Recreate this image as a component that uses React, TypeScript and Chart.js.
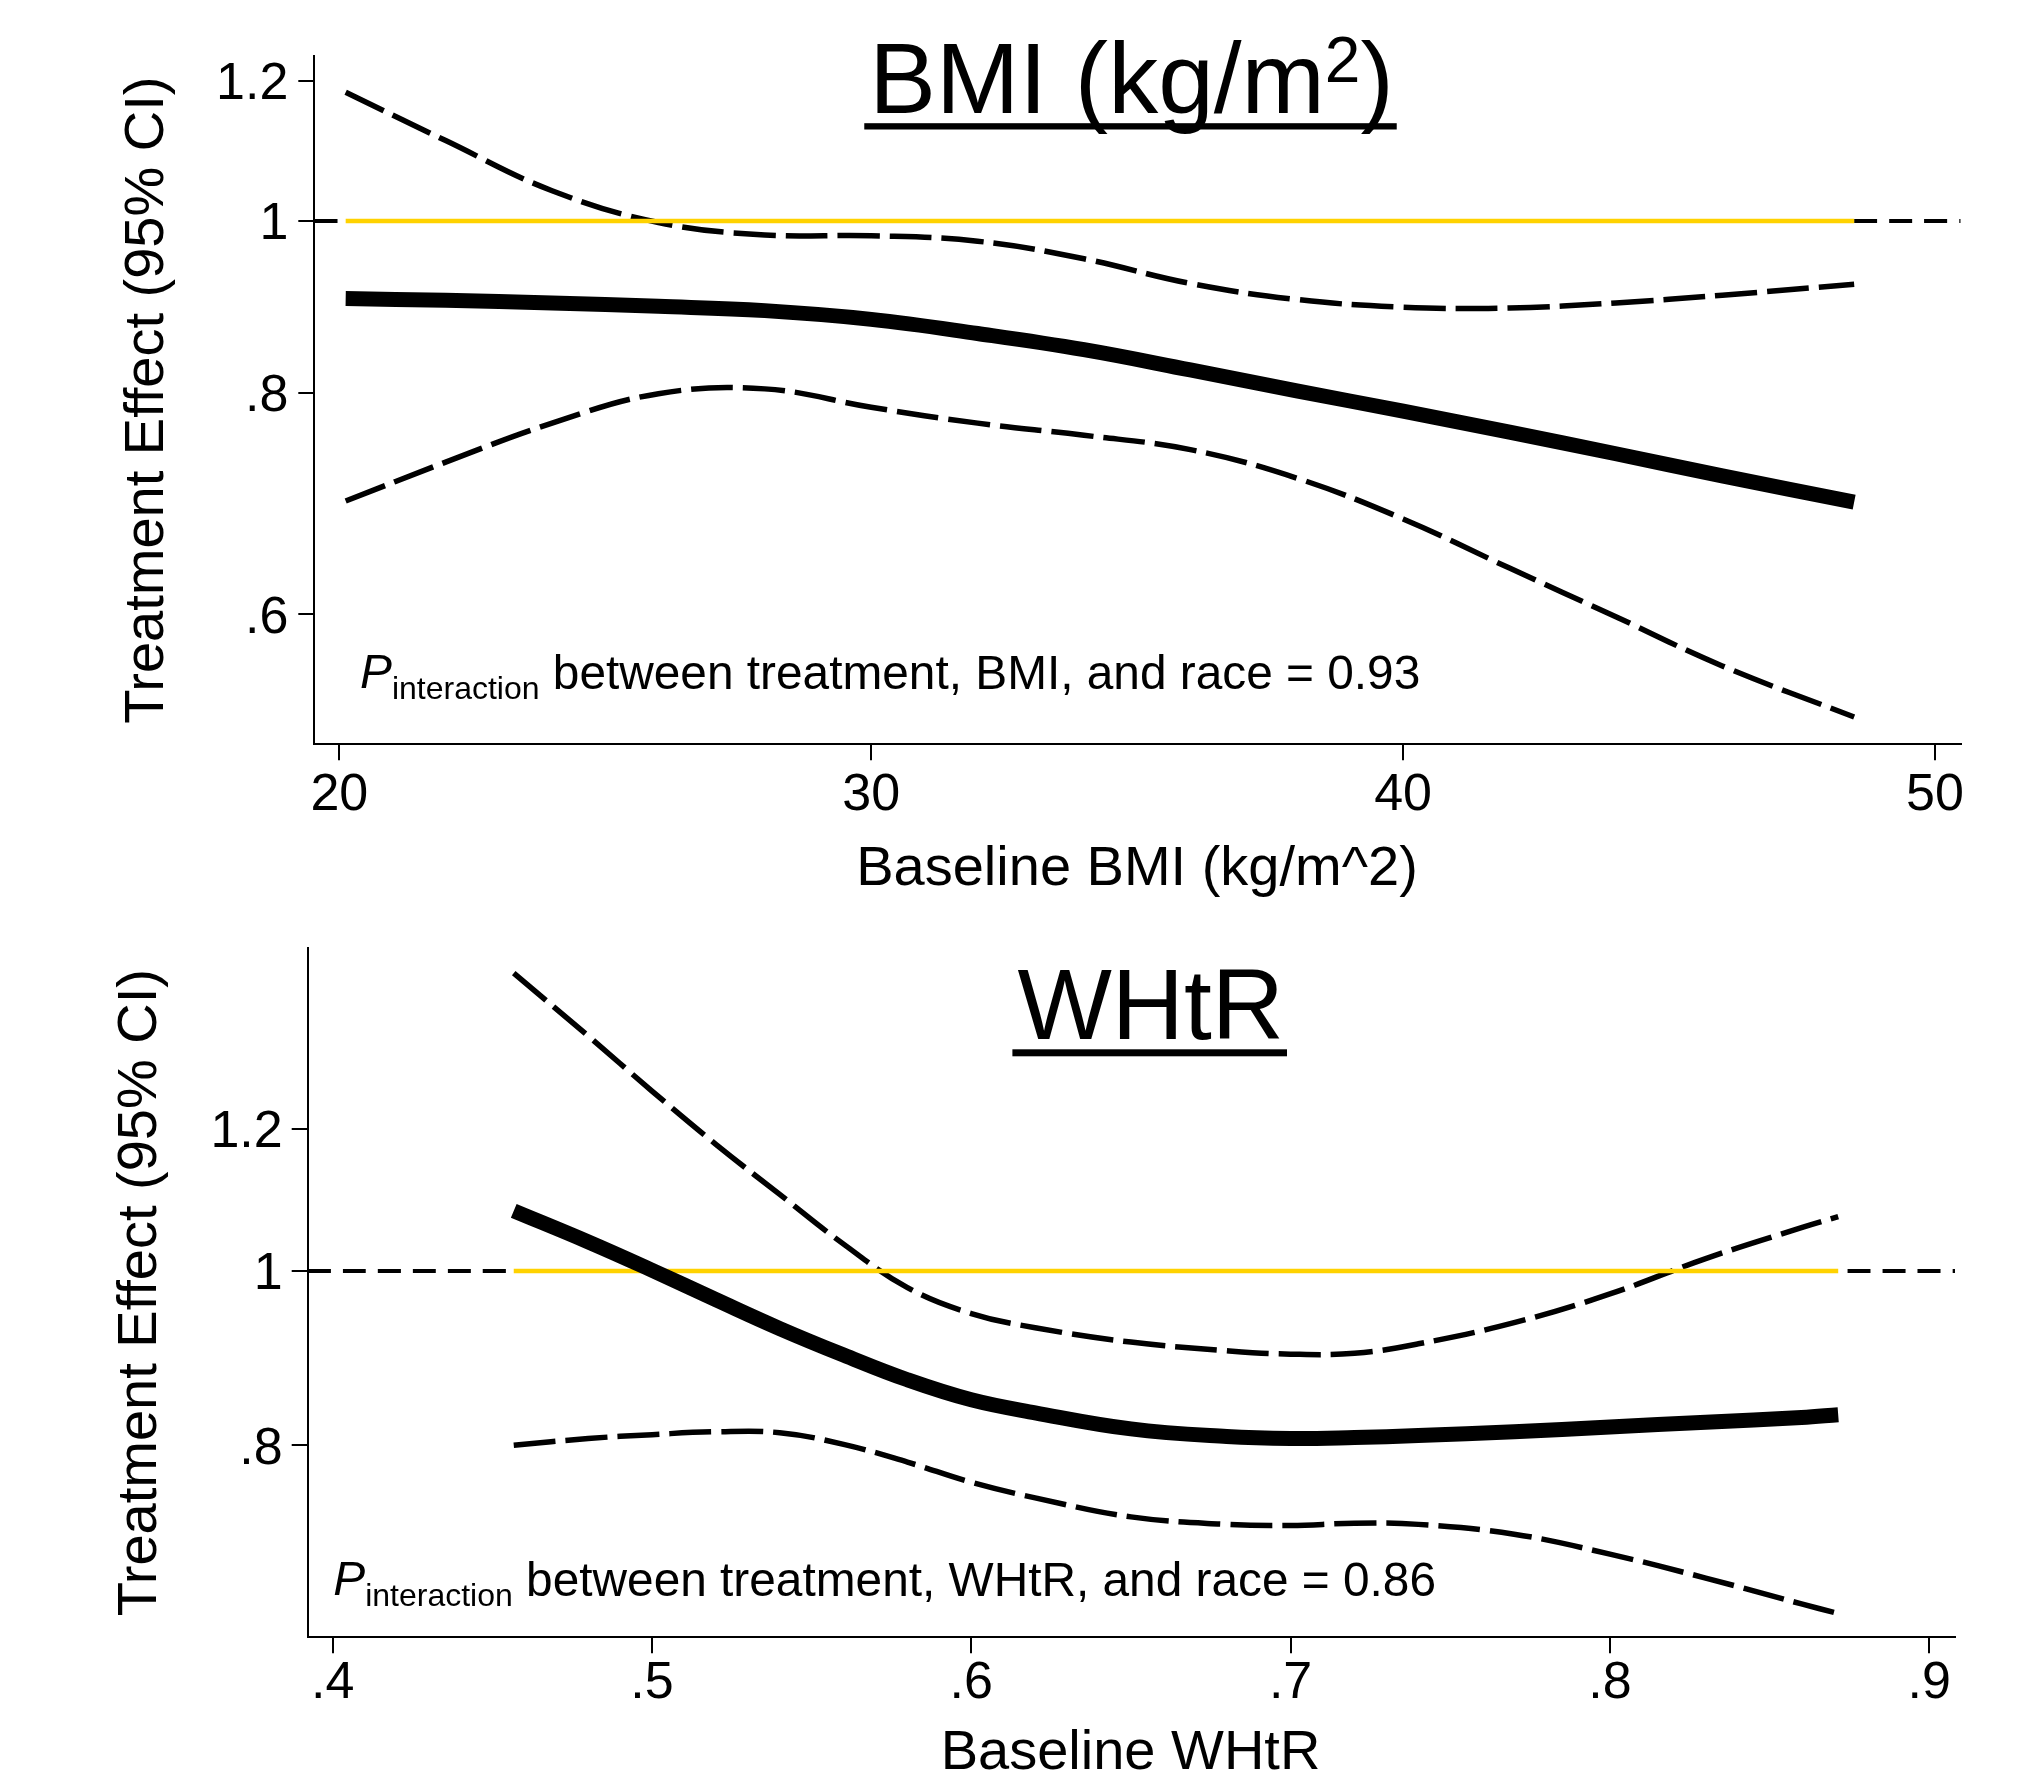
import React, { useEffect, useRef } from 'react';
import { Chart, registerables } from 'chart.js';

Chart.register(...registerables);

const FONT = '"Liberation Sans", Arial, Helvetica, sans-serif';

// ---------- Top panel: BMI ----------
const bmiX = [20.12, 22, 24, 26, 28, 30, 32, 34, 36, 38, 40, 42, 44, 46, 48.48];
const bmiEffect = [0.904, 0.902, 0.899, 0.895, 0.890, 0.880, 0.864, 0.846, 0.824, 0.802, 0.781, 0.760, 0.739, 0.718, 0.694];
const bmiUpper = [1.182, 1.110, 1.040, 0.998, 0.982, 0.981, 0.974, 0.952, 0.922, 0.903, 0.894, 0.893, 0.899, 0.908, 0.921];
const bmiLower = [0.695, 0.731, 0.769, 0.799, 0.804, 0.785, 0.769, 0.757, 0.743, 0.716, 0.679, 0.637, 0.598, 0.561, 0.525];
const bmiXTicks = [20, 30, 40, 50];
const bmiXTickLabels = ['20', '30', '40', '50'];
const bmiYTicks = [0.6, 0.8, 1, 1.2];
const bmiYTickLabels = ['.6', '.8', '1', '1.2'];
const bmiXRange = [19.53, 50.483];
const bmiYRange = [0.5067, 1.2389];

// ---------- Bottom panel: WHtR ----------
const whtrX = [0.4567, 0.48, 0.50, 0.52, 0.54, 0.56, 0.58, 0.60, 0.62, 0.65, 0.68, 0.70, 0.72, 0.74, 0.77, 0.80, 0.83, 0.86, 0.8715];
const whtrEffect = [1.080, 1.038, 1.001, 0.964, 0.929, 0.898, 0.870, 0.848, 0.834, 0.817, 0.809, 0.807, 0.808, 0.810, 0.814, 0.819, 0.824, 0.829, 0.832];
const whtrUpper = [1.464, 1.351, 1.259, 1.176, 1.103, 1.035, 0.979, 0.947, 0.930, 0.913, 0.903, 0.899, 0.900, 0.911, 0.936, 0.971, 1.016, 1.057, 1.072];
const whtrLower = [0.800, 0.807, 0.811, 0.814, 0.813, 0.801, 0.783, 0.763, 0.748, 0.730, 0.723, 0.722, 0.724, 0.723, 0.714, 0.696, 0.675, 0.653, 0.645];
const whtrXTicks = [0.4, 0.5, 0.6, 0.7, 0.8, 0.9];
const whtrXTickLabels = ['.4', '.5', '.6', '.7', '.8', '.9'];
const whtrYTicks = [0.8, 1, 1.2];
const whtrYTickLabels = ['.8', '1', '1.2'];
const whtrXRange = [0.39217, 0.90808];
const whtrYRange = [0.6257, 1.512];

const refValue = 1;

type TitlePart = { text: string; size: number; rise: number };

type PanelCfg = {
  top: number;
  height: number;
  padTop: number;
  padRight: number;
  yAxisWidth: number;
  xAxisHeight: number;
  xTickPad: number;
  yTickPad: number;
  x: number[];
  effect: number[];
  upper: number[];
  lower: number[];
  xTicks: number[];
  xTickLabels: string[];
  yTicks: number[];
  yTickLabels: string[];
  xRange: number[];
  yRange: number[];
  titleParts: TitlePart[];
  titleCx: number;
  titleBase: number;
  ulTop: number;
  ulH: number;
  yTitle: string;
  yTitleX: number;
  xTitle: string;
  xTitleCx: number;
  xTitleBase: number;
  pX: number;
  pBase: number;
  subBase: number;
  mainBase: number;
  annot: string;
};

function makeDecor(cfg: PanelCfg) {
  return {
    id: 'decor',
    afterDraw(chart: any) {
      const ctx: CanvasRenderingContext2D = chart.ctx;
      const ca = chart.chartArea;
      ctx.save();
      ctx.fillStyle = '#000';
      ctx.textBaseline = 'alphabetic';
      ctx.textAlign = 'left';

      // Title with underline
      const widths = cfg.titleParts.map((p) => {
        ctx.font = `${p.size}px ${FONT}`;
        return ctx.measureText(p.text).width;
      });
      const total = widths.reduce((a, b) => a + b, 0);
      let tx = cfg.titleCx - total / 2;
      const startX = tx;
      cfg.titleParts.forEach((p, i) => {
        ctx.font = `${p.size}px ${FONT}`;
        ctx.fillText(p.text, tx, cfg.titleBase - p.rise);
        tx += widths[i];
      });
      ctx.fillRect(startX - 5, cfg.ulTop, total + 8, cfg.ulH);

      // Y axis title (rotated)
      ctx.save();
      ctx.font = `56px ${FONT}`;
      ctx.textAlign = 'center';
      ctx.translate(cfg.yTitleX, (ca.top + ca.bottom) / 2);
      ctx.rotate(-Math.PI / 2);
      ctx.fillText(cfg.yTitle, 0, 0);
      ctx.restore();

      // X axis title
      ctx.font = `56px ${FONT}`;
      ctx.textAlign = 'center';
      ctx.fillText(cfg.xTitle, cfg.xTitleCx, cfg.xTitleBase);

      // Annotation: P_interaction ...
      ctx.textAlign = 'left';
      let ax = cfg.pX;
      ctx.font = `italic 47.8px ${FONT}`;
      ctx.fillText('P', ax, cfg.pBase);
      ax += ctx.measureText('P').width;
      ctx.font = `32px ${FONT}`;
      ctx.fillText('interaction', ax, cfg.subBase);
      ax += ctx.measureText('interaction').width;
      ctx.font = `47.8px ${FONT}`;
      ax += ctx.measureText(' ').width;
      ctx.fillText(cfg.annot, ax, cfg.mainBase);

      ctx.restore();
    },
  };
}

function Panel({ cfg }: { cfg: PanelCfg }) {
  const ref = useRef<HTMLCanvasElement>(null);

  useEffect(() => {
    const canvas = ref.current;
    if (!canvas) return;
    const pts = (ys: number[]) => cfg.x.map((xv, i) => ({ x: xv, y: ys[i] }));
    const refFull = [
      { x: cfg.xRange[0], y: refValue },
      { x: cfg.xRange[1], y: refValue },
    ];
    const refData = [
      { x: cfg.x[0], y: refValue },
      { x: cfg.x[cfg.x.length - 1], y: refValue },
    ];
    const base = {
      pointRadius: 0,
      pointHoverRadius: 0,
      fill: false,
      tension: 0.4,
      borderCapStyle: 'butt' as const,
      borderJoinStyle: 'round' as const,
    };
    const chart = new Chart(canvas, {
      type: 'line',
      data: {
        datasets: [
          { ...base, label: 'Treatment effect', data: pts(cfg.effect), borderColor: '#000', borderWidth: 15, order: 0 },
          { ...base, label: 'Null (data range)', data: refData, borderColor: '#FFD200', borderWidth: 4.5, order: 1 },
          { ...base, label: 'Null', data: refFull, borderColor: '#000', borderWidth: 4, borderDash: [23, 12], order: 2 },
          { ...base, label: 'Upper 95% CI', data: pts(cfg.upper), borderColor: '#000', borderWidth: 5.5, borderDash: [42, 10], order: 3 },
          { ...base, label: 'Lower 95% CI', data: pts(cfg.lower), borderColor: '#000', borderWidth: 5.5, borderDash: [42, 10], order: 3 },
        ],
      },
      options: {
        responsive: false,
        animation: false,
        devicePixelRatio: 1,
        events: [],
        layout: { padding: { left: 0, top: cfg.padTop, right: cfg.padRight, bottom: 0 } },
        plugins: {
          legend: { display: false },
          tooltip: { enabled: false },
          title: { display: false },
        },
        scales: {
          x: {
            type: 'linear',
            position: 'bottom',
            bounds: 'data',
            min: cfg.xRange[0],
            max: cfg.xRange[1],
            afterBuildTicks: (s: any) => {
              s.ticks = cfg.xTicks.map((v) => ({ value: v }));
            },
            afterFit: (s: any) => {
              s.height = cfg.xAxisHeight;
            },
            ticks: {
              autoSkip: false,
              maxRotation: 0,
              minRotation: 0,
              padding: cfg.xTickPad,
              color: '#000',
              font: { family: FONT, size: 52, lineHeight: 1 },
              callback: (v: any) => {
                const i = cfg.xTicks.indexOf(Number(v));
                return i >= 0 ? cfg.xTickLabels[i] : '';
              },
            },
            grid: {
              drawOnChartArea: false,
              drawTicks: true,
              tickLength: 16,
              tickWidth: 2,
              tickColor: '#000',
              color: '#000',
              lineWidth: 2,
            },
            border: { display: true, color: '#000', width: 2 },
          },
          y: {
            type: 'logarithmic',
            position: 'left',
            bounds: 'data',
            min: cfg.yRange[0],
            max: cfg.yRange[1],
            afterBuildTicks: (s: any) => {
              s.ticks = cfg.yTicks.map((v) => ({ value: v }));
            },
            afterFit: (s: any) => {
              s.width = cfg.yAxisWidth;
            },
            ticks: {
              autoSkip: false,
              padding: cfg.yTickPad,
              labelOffset: 4,
              color: '#000',
              font: { family: FONT, size: 52, lineHeight: 1.2 },
              callback: (v: any) => {
                const i = cfg.yTicks.indexOf(Number(v));
                return i >= 0 ? cfg.yTickLabels[i] : '';
              },
            },
            grid: {
              drawOnChartArea: false,
              drawTicks: true,
              tickLength: 16,
              tickWidth: 2,
              tickColor: '#000',
              color: '#000',
              lineWidth: 2,
            },
            border: { display: true, color: '#000', width: 2 },
          },
        },
      } as any,
      plugins: [makeDecor(cfg)],
    });
    return () => chart.destroy();
  }, [cfg]);

  return (
    <canvas
      ref={ref}
      width={2029}
      height={cfg.height}
      style={{ position: 'absolute', left: 0, top: cfg.top, width: 2029, height: cfg.height, display: 'block' }}
    />
  );
}

const topCfg: PanelCfg = {
  top: 0,
  height: 930,
  padTop: 56,
  padRight: 68.3,
  yAxisWidth: 314.3,
  xAxisHeight: 185.7,
  xTickPad: 9,
  yTickPad: 10,
  x: bmiX,
  effect: bmiEffect,
  upper: bmiUpper,
  lower: bmiLower,
  xTicks: bmiXTicks,
  xTickLabels: bmiXTickLabels,
  yTicks: bmiYTicks,
  yTickLabels: bmiYTickLabels,
  xRange: bmiXRange,
  yRange: bmiYRange,
  titleParts: [
    { text: 'BMI (kg/m', size: 100, rise: 0 },
    { text: '2', size: 64, rise: 31 },
    { text: ')', size: 100, rise: 0 },
  ],
  titleCx: 1131.5,
  titleBase: 112.8,
  ulTop: 123.2,
  ulH: 6.3,
  yTitle: 'Treatment Effect (95% CI)',
  yTitleX: 162.7,
  xTitle: 'Baseline BMI (kg/m^2)',
  xTitleCx: 1137,
  xTitleBase: 885,
  pX: 360,
  pBase: 688.3,
  subBase: 699.3,
  mainBase: 689.3,
  annot: 'between treatment, BMI, and race = 0.93',
};

const bottomCfg: PanelCfg = {
  top: 890,
  height: 891,
  padTop: 58,
  padRight: 74,
  yAxisWidth: 307.7,
  xAxisHeight: 143.7,
  xTickPad: 4,
  yTickPad: 9,
  x: whtrX,
  effect: whtrEffect,
  upper: whtrUpper,
  lower: whtrLower,
  xTicks: whtrXTicks,
  xTickLabels: whtrXTickLabels,
  yTicks: whtrYTicks,
  yTickLabels: whtrYTickLabels,
  xRange: whtrXRange,
  yRange: whtrYRange,
  titleParts: [{ text: 'WHtR', size: 100, rise: 0 }],
  titleCx: 1150.7,
  titleBase: 149.3,
  ulTop: 159.3,
  ulH: 7,
  yTitle: 'Treatment Effect (95% CI)',
  yTitleX: 156,
  xTitle: 'Baseline WHtR',
  xTitleCx: 1130.5,
  xTitleBase: 879,
  pX: 333.3,
  pBase: 705,
  subBase: 716,
  mainBase: 706,
  annot: 'between treatment, WHtR, and race = 0.86',
};

export default function App() {
  return (
    <div style={{ position: 'absolute', left: 0, top: 0, width: 2029, height: 1781, background: '#fff', overflow: 'hidden' }}>
      <Panel cfg={topCfg} />
      <Panel cfg={bottomCfg} />
    </div>
  );
}
